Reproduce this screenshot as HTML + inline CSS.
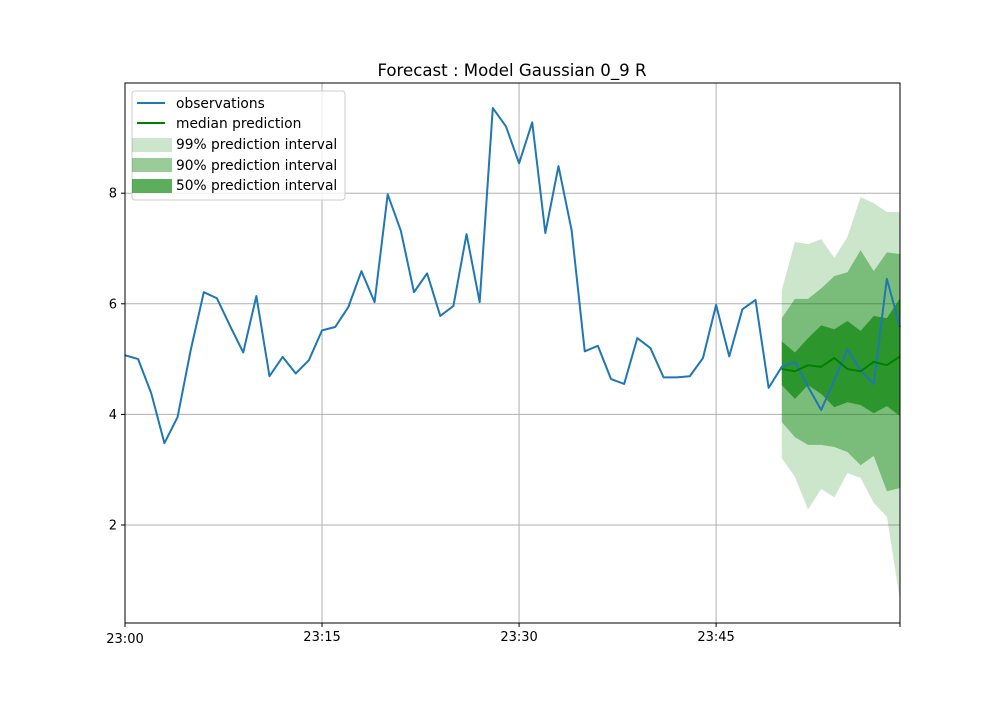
<!DOCTYPE html>
<html><head><meta charset="utf-8"><style>
body{margin:0;background:#fff}
svg{font-family:"DejaVu Sans","Liberation Sans",sans-serif}
</style></head><body>
<svg id="chart" width="1000" height="700" xmlns="http://www.w3.org/2000/svg">
<rect width="1000" height="700" fill="#fff"/>
<text x="512" y="76" font-size="16.6" text-anchor="middle">Forecast : Model Gaussian 0_9 R</text>
<g id="grid"></g>
<g id="bands"></g>
<g id="lines"></g>
<g id="axes"></g>
<g id="legend">
<rect x="132" y="91" width="213" height="109" rx="3" fill="#fff" fill-opacity="0.8" stroke="#ccc"/>
<line x1="137" y1="103" x2="165" y2="103" stroke="#1f77b4" stroke-width="2"/>
<text x="176" y="108" font-size="13.8">observations</text>
<line x1="137" y1="123" x2="165" y2="123" stroke="green" stroke-width="2"/>
<text x="176" y="128" font-size="13.8">median prediction</text>
<rect x="132" y="138" width="40" height="14" fill="green" fill-opacity="0.2"/>
<text x="176" y="149" font-size="13.8">99% prediction interval</text>
<rect x="132" y="158" width="40" height="14" fill="green" fill-opacity="0.4"/>
<text x="176" y="170" font-size="13.8">90% prediction interval</text>
<rect x="132" y="179" width="40" height="14" fill="green" fill-opacity="0.64"/>
<text x="176" y="190" font-size="13.8">50% prediction interval</text>
</g>
</svg>
<script>
const obsValues=[5.07,5.0,4.38,3.48,3.95,5.16,6.21,6.1,5.6,5.12,6.14,4.69,5.04,4.74,4.98,5.52,5.58,5.94,6.59,6.03,7.98,7.32,6.21,6.55,5.78,5.96,7.26,6.03,9.54,9.21,8.54,9.28,7.28,8.49,7.33,5.14,5.24,4.64,4.55,5.38,5.2,4.67,4.67,4.69,5.02,5.98,5.05,5.9,6.07,4.48,4.86,4.95,4.5,4.08,4.62,5.18,4.8,4.55,6.45,5.58];
const fcStart=50;
const median=[4.82,4.78,4.89,4.86,5.02,4.82,4.78,4.95,4.89,5.05];
const p50hi=[5.32,5.12,5.38,5.61,5.54,5.69,5.51,5.78,5.74,6.1];
const p50lo=[4.53,4.28,4.53,4.37,4.13,4.22,4.17,4.02,4.15,3.97];
const p90hi=[5.74,6.09,6.09,6.28,6.5,6.57,6.97,6.59,6.93,6.9];
const p90lo=[3.86,3.59,3.45,3.45,3.41,3.32,3.08,3.25,2.61,2.67];
const p99hi=[6.25,7.12,7.08,7.17,6.83,7.21,7.93,7.82,7.66,7.66];
const p99lo=[3.21,2.87,2.28,2.65,2.5,2.94,2.85,2.4,2.15,0.64];
const yTicks=[2,4,6,8];
const xTickMinutes=[0,15,30,45,59];
const xTickLabels=["23:00","23:15","23:30","23:45",""];
const X0=125,X1=900,Y0=83,Y1=623;
const xs=m=>X0+(m/59)*(X1-X0);
const ys=v=>635.6-55.3*v;
const NS="http://www.w3.org/2000/svg";
function mk(tag,parent,attrs){const e=document.createElementNS(NS,tag);for(const k in attrs)e.setAttribute(k,attrs[k]);document.getElementById(parent).appendChild(e);return e;}
yTicks.forEach(v=>{
 const g=mk('line','grid',{x1:X0,x2:X1,y1:ys(v),y2:ys(v),stroke:'#b0b0b0','stroke-width':1});
 
 
 const t=mk('line','axes',{x1:X0-4,x2:X0,y1:ys(v),y2:ys(v),stroke:'#000'});
 
 
 const l=mk('text','axes',{x:X0-8,y:ys(v)+4.5,'font-size':13,'text-anchor':'end'});
 l.textContent=v;
 
 
});
xTickMinutes.forEach((m,i)=>{
 if(m>0&&m<59){const g=mk('line','grid',{x1:xs(m),x2:xs(m),y1:Y0,y2:Y1,stroke:'#b0b0b0','stroke-width':1});
 
 }
 const t=mk('line','axes',{x1:xs(m),x2:xs(m),y1:Y1,y2:Y1+4,stroke:'#000'});
 
 
 const l=mk('text','axes',{x:xs(m),y:i==0?643:641,'font-size':13,'text-anchor':'middle'});
 l.textContent=xTickLabels[i];
 
 
});
function band(hi,lo,op,name){
 let pts=hi.map((v,i)=>xs(fcStart+i)+','+ys(v));
 pts=pts.concat(lo.map((v,i)=>xs(fcStart+i)+','+ys(v)).reverse());
 const p=mk('polygon','bands',{points:pts.join(' '),fill:'green','fill-opacity':op});
 
 
}
band(p99hi,p99lo,0.2,'band-99');
band(p90hi,p90lo,0.4,'band-90');
band(p50hi,p50lo,0.64,'band-50');
const ob=mk('polyline','lines',{points:obsValues.map((v,i)=>xs(i)+','+ys(v)).join(' '),fill:'none',stroke:'#1f77b4','stroke-width':2,'stroke-linejoin':'round'});


const md=mk('polyline','lines',{points:median.map((v,i)=>xs(fcStart+i)+','+ys(v)).join(' '),fill:'none',stroke:'green','stroke-width':2,'stroke-linejoin':'round'});


const fr=mk('rect','axes',{x:X0,y:Y0,width:X1-X0,height:Y1-Y0,fill:'none',stroke:'#000','stroke-width':1});


</script>
</body></html>
